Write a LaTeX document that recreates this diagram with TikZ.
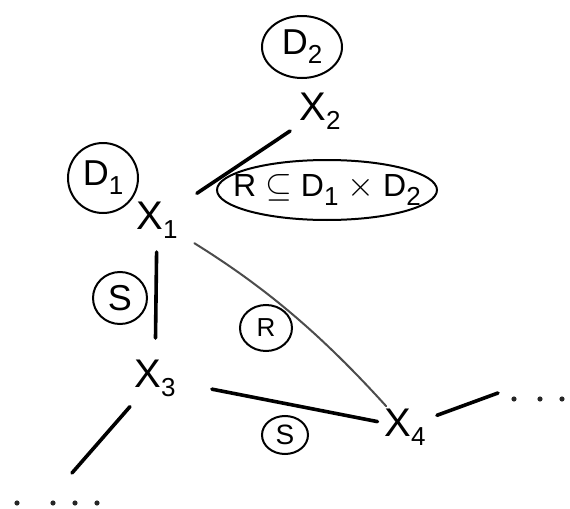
\documentclass[tikz,border=0pt]{standalone}
\usepackage{fontspec}
\setmainfont{Liberation Sans}
\usepackage{tikz}
\usetikzlibrary{shapes.geometric}
\newcommand{\lowidx}[1]{\raisebox{-4.5pt}{\fontsize{13}{15}\selectfont #1}}
\tikzset{
    var/.style={inner sep=1pt, font=\fontsize{20}{24}\selectfont},
    ring/.style={ellipse, draw, line width=1pt, inner sep=-8pt, font=\fontsize{18}{21}\selectfont},
    edge/.style={line width=1.8pt, line cap=round},
    softedge/.style={line width=1pt, draw=black!70, line cap=round},
    dot/.style={circle, fill=black!85, inner sep=0pt, minimum size=2.6pt}
}

\begin{document}
\begin{tikzpicture}[x=0.5pt, y=-0.5pt]
        \useasboundingbox (0,0) rectangle (570,509);

        % ---------------- variables ----------------
        \node[var] (xOne) at (157,220) {X\lowidx{1}};
        \node[var] (xTwo) at (320,111) {X\lowidx{2}};
        \node[var] (xThree) at (155,378) {X\lowidx{3}};
        \node[var] (xFour) at (405,427) {X\lowidx{4}};

        % ---------------- domains and constraints ----------------
        \node[ring, minimum width=35pt, minimum height=35pt] (dOne) at (103,178) {D\lowidx{1}};
        \node[ring, minimum width=40pt, minimum height=31pt] (dTwo) at (302,47) {D\lowidx{2}};
        \node[ring, minimum width=103pt, minimum height=30pt, font=\fontsize{16}{19}\selectfont] (rel) at (327,190)
            {R $\subseteq$ D\lowidx{1} $\times$ D\lowidx{2}};
        \node[ring, minimum width=27pt, minimum height=26pt] (sOne) at (120,298) {S};
        \node[ring, minimum width=26pt, minimum height=23pt, font=\fontsize{13}{15}\selectfont] (rOne) at (266,328) {R};
        \node[ring, minimum width=23pt, minimum height=19pt, font=\fontsize{14}{16}\selectfont] (sTwo) at (285,435) {S};

        % ---------------- edges ----------------
        \draw[edge, shorten <=24pt, shorten >=18pt] (xOne.center) -- (xTwo.center);
        \draw[edge, shorten <=16pt, shorten >=20pt] (xOne.center) -- (xThree.center);
        \draw[softedge, shorten <=22pt, shorten >=14pt] (xOne.center) to[bend left=8] (xFour.center);
        \draw[edge, shorten <=29pt, shorten >=14pt] (xThree.center) -- (xFour.center);

        % loose ends
        \coordinate (tailThree) at (72,473);
        \coordinate (tailFour) at (498,393);
        \draw[edge, shorten <=19pt] (xThree.center) -- (tailThree);
        \draw[edge, shorten <=17pt] (xFour.center) -- (tailFour);

        \foreach \i/\x in {1/514,2/540,3/562} {
            \node[dot] (dotR\i) at (\x,399) {};
        }
        \foreach \i/\x in {1/17,2/53,3/75,4/97} {
            \node[dot] (dotL\i) at (\x,503) {};
        }
    \end{tikzpicture}
\end{document}
